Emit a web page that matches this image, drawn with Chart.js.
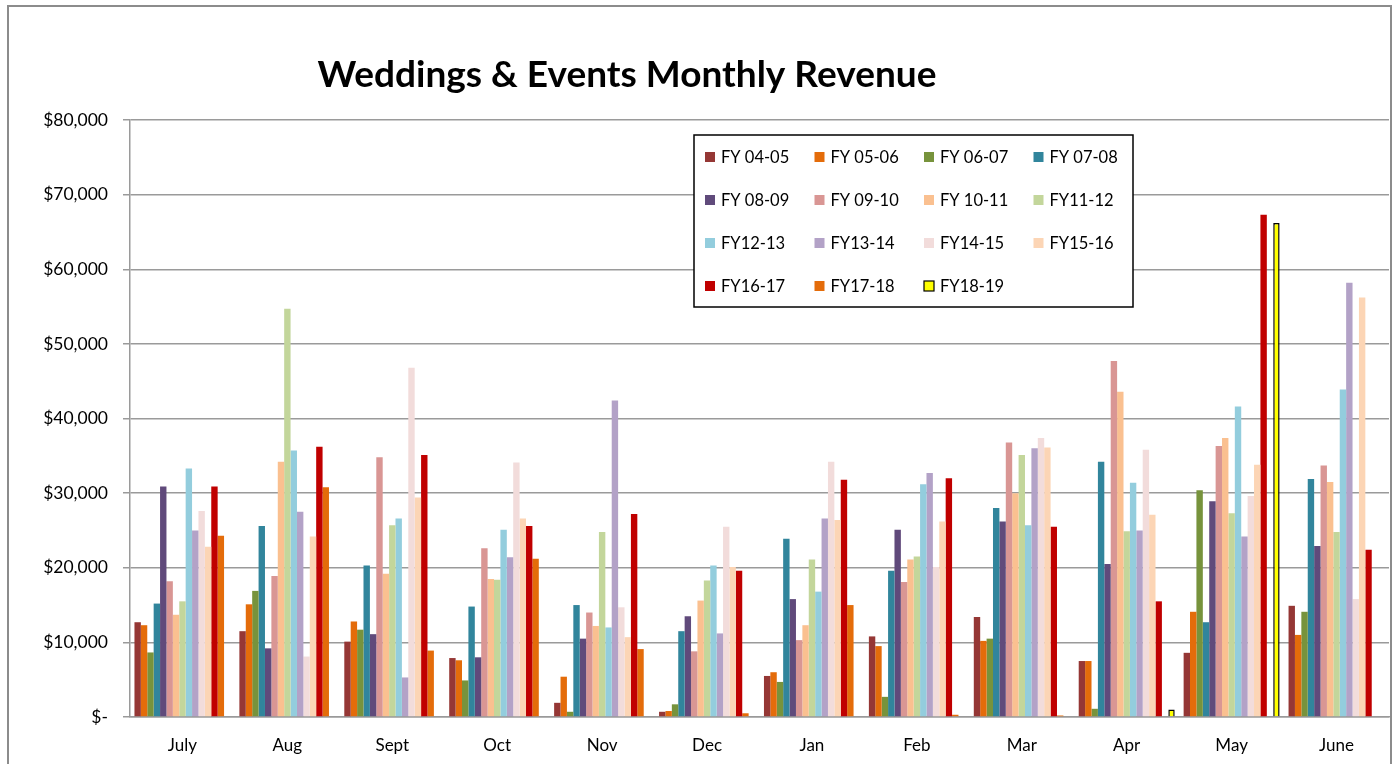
<!DOCTYPE html>
<html lang="en">
<head>
<meta charset="UTF-8">
<title>Weddings & Events Monthly Revenue</title>
<script src="https://cdn.jsdelivr.net/npm/chart.js"></script>
<style>
    body { margin: 0; background: #fff; }
    canvas { display: block; }
</style>
</head>
<body>
<canvas id="grafico" width="1398" height="764"></canvas>
<script>
    const months = ['July', 'Aug', 'Sept', 'Oct', 'Nov', 'Dec', 'Jan', 'Feb', 'Mar', 'Apr', 'May', 'June'];
    const yTicks = [0, 10000, 20000, 30000, 40000, 50000, 60000, 70000, 80000];

    // revenue per month, one array per fiscal year
    const fy0405 = [12700, 11500, 10100, 7900, 1900, 700, 5500, 10800, 13400, 7500, 8600, 14900];
    const fy0506 = [12300, 15100, 12800, 7600, 5400, 800, 6000, 9500, 10200, 7500, 14100, 11000];
    const fy0607 = [8650, 16900, 11700, 4900, 700, 1700, 4700, 2700, 10500, 1100, 30400, 14100];
    const fy0708 = [15200, 25600, 20300, 14800, 15000, 11500, 23900, 19600, 28000, 34200, 12700, 31900];
    const fy0809 = [30900, 9200, 11100, 8000, 10500, 13500, 15800, 25100, 26200, 20500, 28900, 22900];
    const fy0910 = [18200, 18900, 34800, 22600, 14000, 8800, 10300, 18100, 36800, 47700, 36300, 33700];
    const fy1011 = [13700, 34200, 19200, 18500, 12200, 15600, 12300, 21100, 30000, 43600, 37400, 31500];
    const fy1112 = [15500, 54700, 25700, 18400, 24800, 18300, 21100, 21500, 35100, 24900, 27300, 24800];
    const fy1213 = [33300, 35700, 26600, 25100, 12000, 20300, 16800, 31200, 25700, 31400, 41600, 43900];
    const fy1314 = [25000, 27500, 5300, 21400, 42400, 11200, 26600, 32700, 36000, 25000, 24200, 58200];
    const fy1415 = [27600, 8100, 46800, 34100, 14700, 25500, 34200, 20100, 37400, 35800, 29600, 15800];
    const fy1516 = [22800, 24200, 29400, 26600, 10700, 20100, 26400, 26200, 36100, 27100, 33800, 56200];
    const fy1617 = [30900, 36200, 35100, 25600, 27200, 19600, 31800, 32000, 25500, 15500, 67300, 22400];
    const fy1718 = [24300, 30800, 8900, 21200, 9100, 500, 15000, 300, 200, 0, null, null];
    const fy1819 = [null, null, null, null, null, null, null, null, null, 1000, 66200, null];

    const seriesNames = ['FY 04-05', 'FY 05-06', 'FY 06-07', 'FY 07-08', 'FY 08-09', 'FY 09-10', 'FY 10-11', 'FY11-12',
        'FY12-13', 'FY13-14', 'FY14-15', 'FY15-16', 'FY16-17', 'FY17-18', 'FY18-19'];
    const seriesData = [fy0405, fy0506, fy0607, fy0708, fy0809, fy0910, fy1011, fy1112, fy1213, fy1314, fy1415, fy1516, fy1617, fy1718, fy1819];
    const seriesColors = ['#953735', '#E46C0A', '#77933C', '#31859C', '#604A7B', '#D99694', '#FAC090', '#C3D69B',
        '#93CDDD', '#B3A2C7', '#F2DCDB', '#FCD5B5', '#C00000', '#E46C0A', '#FFFF00'];

    const FONT = 'Lato, "Liberation Sans", sans-serif';

    const datasets = seriesNames.map((name, i) => ({
        label: name,
        data: seriesData[i],
        backgroundColor: seriesColors[i],
        borderColor: name === 'FY18-19' ? '#000' : seriesColors[i],
        borderWidth: name === 'FY18-19' ? 1.5 : 0,
        barPercentage: 1,
        categoryPercentage: 0.915
    }));

    // frame, title and the boxed legend
    const decor = {
        id: 'decor',
        beforeDraw(chart) {
            const c = chart.ctx;
            c.save();
            c.fillStyle = '#fff';
            c.fillRect(0, 0, chart.width, chart.height);
            c.strokeStyle = '#8c8c8c';
            c.lineWidth = 2;
            c.strokeRect(8, 6, 1383, 800);
            c.restore();
        },
        afterDraw(chart) {
            const c = chart.ctx;
            c.save();
            c.fillStyle = '#000';
            c.font = 'bold 37px ' + FONT;
            c.textAlign = 'center';
            c.textBaseline = 'alphabetic';
            c.fillText('Weddings & Events Monthly Revenue', 627, 87);

            // legend box
            c.fillStyle = '#fff';
            c.fillRect(694, 135, 439, 172);
            c.strokeStyle = '#000';
            c.lineWidth = 1.5;
            c.strokeRect(694, 135, 439, 172);
            c.font = '16.5px ' + FONT;
            c.textAlign = 'left';
            c.textBaseline = 'middle';
            chart.data.datasets.forEach((ds, i) => {
                const col = i % 4, row = Math.floor(i / 4);
                const x = 705 + col * 109.5, y = 157 + row * 43;
                c.fillStyle = ds.backgroundColor;
                c.fillRect(x, y - 5, 10, 10);
                if (ds.borderWidth) {
                    c.strokeStyle = '#000';
                    c.lineWidth = 1.2;
                    c.strokeRect(x, y - 5, 10, 10);
                }
                c.fillStyle = '#000';
                c.fillText(ds.label, x + 16, y + 1);
            });
            c.restore();
        }
    };

    const ctx = document.getElementById('grafico').getContext('2d');
    const myChart = new Chart(ctx, {
        type: 'bar',
        data: { labels: months, datasets: datasets },
        plugins: [decor],
        options: {
            responsive: false,
            animation: false,
            layout: { padding: { top: 120, right: 9, bottom: 0, left: 0 } },
            plugins: {
                legend: { display: false },
                title: { display: false },
                tooltip: { enabled: false }
            },
            scales: {
                x: {
                    grid: { display: false, drawTicks: false },
                    border: { color: '#9a9a9a', width: 1.5 },
                    ticks: { color: '#000', font: { family: FONT, size: 17 }, padding: 18, maxRotation: 0 },
                    afterFit(scale) { scale.height = 47; }
                },
                y: {
                    min: 0,
                    max: 80000,
                    afterBuildTicks(scale) { scale.ticks = yTicks.map(v => ({ value: v })); },
                    grid: { color: '#9a9a9a', lineWidth: 1.5, tickLength: 7 },
                    border: { color: '#9a9a9a', width: 1.5 },
                    ticks: {
                        color: '#000',
                        font: { family: FONT, size: 17.5 },
                        padding: 15,
                        callback: v => v === 0 ? '$-' : '$' + v.toLocaleString('en-US')
                    },
                    afterFit(scale) { scale.width = 130; }
                }
            }
        }
    });
</script>
</body>
</html>
